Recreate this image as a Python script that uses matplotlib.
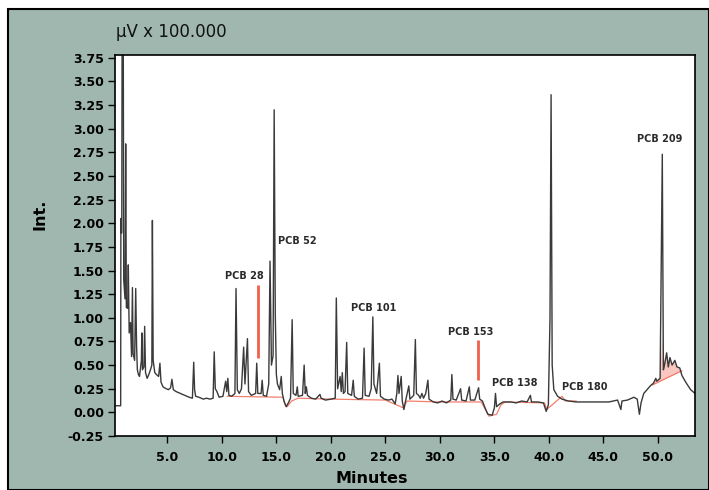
import numpy as np
import matplotlib
matplotlib.use("Agg")
import matplotlib.pyplot as plt
from matplotlib.patches import Rectangle

# Chromatogram trace (minutes, uV x 100.000)
trace_t = [0.2, 0.72, 0.74, 0.78, 0.82, 0.86, 0.95, 1.0, 1.12, 1.18, 1.24, 1.36,
           1.42, 1.50, 1.62, 1.72, 1.80, 1.86, 2.0, 2.10, 2.18, 2.25, 2.35, 2.45,
           2.62, 2.66, 2.72, 2.85, 2.92, 3.0, 3.15, 3.3, 3.45, 3.58, 3.63, 3.70,
           3.85, 4.0, 4.2, 4.32, 4.42, 4.6, 4.9, 5.1, 5.3, 5.42, 5.55, 5.8,
           6.2, 6.6, 7.0, 7.3, 7.42, 7.5, 7.6, 7.9, 8.3, 8.6, 8.9, 9.2,
           9.3, 9.4, 9.55, 9.75, 10.1, 10.35, 10.45, 10.55, 10.65, 10.9, 11.2, 11.3,
           11.42, 11.6, 11.8, 12.0, 12.12, 12.35, 12.45, 12.7, 13.1, 13.2, 13.3, 13.6,
           13.7, 13.8, 14.1, 14.3, 14.42, 14.55, 14.7, 14.8, 14.9, 15.0, 15.1, 15.3,
           15.45, 15.55, 15.7, 15.9, 16.1, 16.3, 16.45, 16.55, 16.8, 16.92, 17.0, 17.4,
           17.55, 17.65, 17.75, 17.85, 18.2, 18.6, 19.0, 19.1, 19.5, 20.0, 20.4, 20.5,
           20.62, 20.85, 20.95, 21.05, 21.15, 21.3, 21.45, 21.55, 21.9, 22.05, 22.15, 22.5,
           22.9, 23.05, 23.15, 23.5, 23.7, 23.85, 23.95, 24.2, 24.45, 24.55, 24.9, 25.3,
           25.6, 25.9, 26.05, 26.15, 26.25, 26.45, 26.55, 26.7, 26.85, 27.15, 27.25, 27.6,
           27.75, 27.85, 28.05, 28.2, 28.35, 28.5, 28.7, 28.9, 29.0, 29.4, 29.8, 30.2,
           30.6, 31.0, 31.1, 31.2, 31.5, 31.9, 32.0, 32.4, 32.7, 32.8, 33.2, 33.55,
           33.65, 33.9, 34.1, 34.4, 34.8, 35.0, 35.1, 35.2, 35.5, 35.8, 36.5, 37.0,
           37.5, 38.0, 38.3, 38.4, 39.0, 39.5, 39.75, 39.95, 40.1, 40.2, 40.3, 40.45,
           40.8, 41.2, 41.8, 42.5, 43.5, 44.5, 45.5, 46.3, 46.6, 46.7, 47.2, 47.8,
           48.1, 48.3, 48.45, 48.7, 49.0, 49.3, 49.6, 49.8, 49.9, 50.2, 50.4, 50.5,
           50.6, 50.8, 50.95, 51.1, 51.3, 51.55, 51.75, 52.0, 52.2, 52.6, 53.0, 53.4]
trace_v = [0.07, 0.07, 2.05, 1.9, 1.9, 4.5, 4.5, 1.4, 1.2, 2.84, 1.11, 1.1,
           1.56, 0.84, 0.95, 0.59, 1.32, 0.62, 0.55, 1.31, 0.70, 0.45, 0.40, 0.38,
           0.55, 0.84, 0.45, 0.48, 0.91, 0.42, 0.36, 0.40, 0.45, 0.50, 2.03, 0.55,
           0.42, 0.40, 0.38, 0.52, 0.32, 0.27, 0.25, 0.24, 0.26, 0.35, 0.24, 0.22,
           0.20, 0.18, 0.16, 0.15, 0.53, 0.24, 0.17, 0.16, 0.14, 0.15, 0.14, 0.15,
           0.64, 0.25, 0.22, 0.16, 0.17, 0.33, 0.22, 0.36, 0.18, 0.17, 0.20, 1.31,
           0.24, 0.20, 0.25, 0.69, 0.30, 0.78, 0.22, 0.18, 0.20, 0.52, 0.20, 0.20,
           0.34, 0.18, 0.17, 0.30, 1.60, 0.50, 0.60, 3.20, 1.05, 0.40, 0.30, 0.24,
           0.38, 0.20, 0.12, 0.06, 0.10, 0.15, 0.98, 0.20, 0.18, 0.27, 0.17, 0.18,
           0.50, 0.20, 0.27, 0.18, 0.15, 0.14, 0.19, 0.15, 0.13, 0.14, 0.15, 1.21,
           0.25, 0.38, 0.22, 0.42, 0.20, 0.22, 0.74, 0.20, 0.18, 0.34, 0.17, 0.14,
           0.15, 0.68, 0.18, 0.17, 0.25, 1.01, 0.30, 0.20, 0.52, 0.17, 0.14, 0.13,
           0.14, 0.09, 0.20, 0.39, 0.20, 0.38, 0.12, 0.03, 0.12, 0.28, 0.14, 0.18,
           0.77, 0.20, 0.18, 0.15, 0.20, 0.15, 0.20, 0.34, 0.14, 0.11, 0.10, 0.12,
           0.10, 0.13, 0.40, 0.14, 0.13, 0.25, 0.13, 0.12, 0.27, 0.13, 0.13, 0.26,
           0.14, 0.12, 0.06, -0.02, -0.03, 0.05, 0.20, 0.06, 0.09, 0.11, 0.11, 0.10,
           0.12, 0.11, 0.18, 0.11, 0.11, 0.10, 0.01, 0.08, 1.00, 3.36, 0.50, 0.24,
           0.17, 0.14, 0.12, 0.11, 0.11, 0.11, 0.11, 0.13, 0.03, 0.12, 0.13, 0.16,
           0.14, -0.02, 0.10, 0.20, 0.24, 0.28, 0.31, 0.36, 0.33, 0.36, 2.73, 0.45,
           0.50, 0.63, 0.48, 0.58, 0.50, 0.55, 0.48, 0.47, 0.39, 0.31, 0.24, 0.20]

# integration baseline (red)
base_t = [10.5, 15.6, 15.8, 16.0, 16.4, 17.0, 20.0, 25.0, 26.6, 27.0, 30.0, 33.8,
          34.5, 35.2, 35.6, 36.0, 39.6, 39.8, 41.2, 41.5, 42.5]
base_v = [0.17, 0.16, 0.08, 0.06, 0.12, 0.15, 0.14, 0.13, 0.05, 0.12, 0.11, 0.11,
          -0.04, -0.02, 0.08, 0.11, 0.10, 0.03, 0.17, 0.12, 0.12]
base2_t = [49.5, 52.2]
base2_v = [0.29, 0.44]

# red marker bars (time, bottom, top)
mark_t = [13.3, 33.5]
mark_lo = [0.575, 0.34]
mark_hi = [1.35, 0.77]

# peak labels
labels = ["PCB 28", "PCB 52", "PCB 101", "PCB 153", "PCB 138", "PCB 180", "PCB 209"]
label_t = [12.1, 16.9, 23.9, 32.85, 36.9, 43.3, 50.2]
label_v = [1.44, 1.81, 1.10, 0.85, 0.31, 0.27, 2.89]

teal = "#9fb7af"
red = "#f0604a"

fig = plt.figure(figsize=(7.09, 4.90), dpi=100)
fig.patch.set_facecolor("white")
fig.patches.append(Rectangle((8 / 709, 0), 1 - 8 / 709, 1 - 9 / 490, transform=fig.transFigure,
                             facecolor=teal, edgecolor="black", linewidth=1.5, zorder=-10))

ax = fig.add_axes([115 / 709, 54 / 490, 580 / 709, 381 / 490])
ax.set_facecolor("white")

# shaded area under the last peak group
t_arr = np.array(trace_t)
v_arr = np.array(trace_v)
sel = (t_arr >= base2_t[0]) & (t_arr <= base2_t[1])
poly_t = list(t_arr[sel]) + base2_t[::-1]
poly_v = [min(v, 0.8) for v in v_arr[sel]] + base2_v[::-1]
ax.fill(poly_t, poly_v, color=red, alpha=0.35, lw=0)

ax.plot(base_t, base_v, color=red, lw=0.9, alpha=0.8)
ax.plot(base2_t, base2_v, color=red, lw=0.9, alpha=0.8)
ax.plot(trace_t, trace_v, color="#3a3a3a", lw=1.0)
ax.vlines(mark_t, mark_lo, mark_hi, color=red, lw=2.0)

for lab, t, v in zip(labels, label_t, label_v):
    ax.text(t, v, lab, ha="center", va="center", fontsize=7, fontweight="bold", color="#2a2a2a")

ax.set_xlim(0.2, 53.4)
ax.set_ylim(-0.25, 3.78)
ax.set_xticks([5, 10, 15, 20, 25, 30, 35, 40, 45, 50])
ax.set_xticklabels([f"{x:.1f}" for x in [5, 10, 15, 20, 25, 30, 35, 40, 45, 50]])
yt = np.arange(-0.25, 3.76, 0.25)
ax.set_yticks(yt)
ax.set_yticklabels([f"{y:.2f}" for y in yt])
ax.tick_params(direction="out", length=5, width=1.0, labelsize=9, pad=3)
for lab in ax.get_xticklabels() + ax.get_yticklabels():
    lab.set_fontweight("bold")
ax.tick_params(axis="x", pad=6)
for s in ax.spines.values():
    s.set_linewidth(1.2)

fig.text(116 / 709, 1 - 32 / 490, "\u03bcV x 100.000", fontsize=12, ha="left", va="center", color="#111111")
fig.text(372 / 709, 1 - 478 / 490, "Minutes", fontsize=11.5, fontweight="bold", ha="center", va="center")
fig.text(40 / 709, 1 - 214 / 490, "Int.", fontsize=11.5, fontweight="bold", rotation=90, ha="center", va="center")

fig.savefig("out.png", dpi=100, facecolor=fig.get_facecolor())
